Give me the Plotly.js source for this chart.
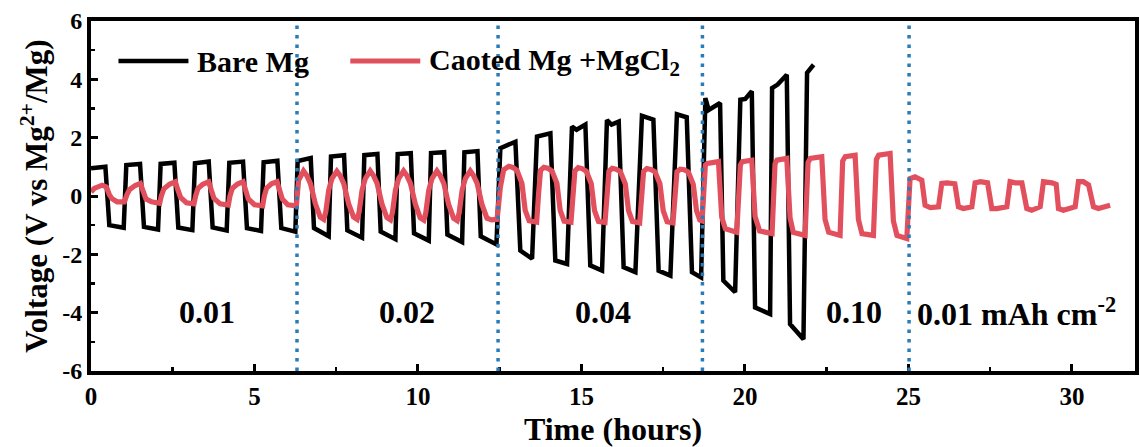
<!DOCTYPE html>
<html>
<head>
<meta charset="utf-8">
<script src="https://cdn.plot.ly/plotly-3.0.1.min.js"></script>
<style>html,body{margin:0;padding:0;background:#fff;}#chart{width:1140px;height:447px;}</style>
</head>
<body>
<div id="chart"></div>
<script>
// ---- data ----
const bareTime = [
  0.00,0.44,0.56,1.00, 1.08,1.50,1.62,2.05, 2.13,2.55,2.67,3.10, 3.18,3.60,3.72,4.15, 4.23,4.65,4.77,5.20, 5.28,5.70,5.82,6.25,
  6.32,6.72,6.82,7.27, 7.34,7.74,7.84,8.29, 8.36,8.76,8.86,9.31, 9.38,9.78,9.88,10.33, 10.40,10.80,10.90,11.35, 11.42,11.82,11.92,12.40,
  12.52,12.98,13.13,13.49, 13.64,14.05,14.20,14.56, 14.71,14.85,15.12,15.27,15.63, 15.78,15.92,16.14,16.29,16.65, 16.85,17.20,17.36,17.72, 17.92,18.22,18.38,18.66,
  18.79,18.89,19.24,19.34,19.70, 19.86,20.01,20.21,20.31,20.77, 20.83,21.00,21.28,21.38,21.79, 21.90,22.10
];
const bareVolt = [
  0.95,1.00,-1.00,-1.09, 1.06,1.10,-1.06,-1.15, 1.10,1.14,-1.08,-1.17, 1.12,1.18,-1.08,-1.18, 1.14,1.18,-1.10,-1.20, 1.16,1.21,-1.10,-1.22,
  1.20,1.30,-1.10,-1.38, 1.35,1.40,-1.18,-1.43, 1.40,1.44,-1.22,-1.48, 1.44,1.47,-1.28,-1.53, 1.47,1.50,-1.32,-1.58, 1.50,1.54,-1.38,-1.66,
  1.64,1.86,-1.87,-2.15, 2.04,2.15,-2.21,-2.33, 2.38,2.27,2.45,-2.38,-2.56, 2.60,2.45,2.55,-2.44,-2.61, 2.75,2.62,-2.56,-2.73, 2.80,2.70,-2.61,-2.79,
  3.36,2.95,3.19,-2.90,-3.30, 3.30,3.33,3.59,-3.82,-4.05, 3.70,3.82,4.16,-4.39,-4.91, 4.22,4.50
];
const coatTime = [
  0.00,0.10,0.34,0.47,0.56,0.64,0.80,1.02, 1.10,1.18,1.35,1.51,1.60,1.68,1.85,2.10, 2.15,2.23,2.40,2.58,2.66,2.74,2.92,3.15,
  3.20,3.27,3.42,3.60,3.68,3.76,3.95,4.20, 4.25,4.32,4.48,4.65,4.73,4.81,5.00,5.25, 5.30,5.37,5.52,5.69,5.77,5.85,6.02,6.28,
  6.35,6.50,6.60,6.71,6.86,7.01,7.12,7.18,7.27,7.37, 7.52,7.62,7.73,7.88,8.03,8.14,8.20,8.29,8.39,
  8.54,8.64,8.75,8.90,9.05,9.16,9.22,9.31,9.41, 9.56,9.66,9.77,9.92,10.07,10.18,10.24,10.33,10.43,
  10.58,10.68,10.79,10.94,11.09,11.20,11.26,11.35,11.45, 11.60,11.70,11.81,11.96,12.11,12.25,12.42,
  12.52,12.62,12.78,12.90,13.03,13.18,13.28,13.40, 13.63,13.69,13.75,13.85,13.97,14.10,14.25,14.35,14.47,
  14.68,14.74,14.80,14.90,15.02,15.15,15.30,15.40,15.52, 15.72,15.78,15.84,15.94,16.06,16.19,16.34,16.44,16.56,
  16.78,16.84,16.90,17.00,17.12,17.25,17.40,17.50,17.62, 17.80,17.86,17.92,18.02,18.14,18.27,18.42,18.52,18.62,18.69,
  18.79,18.85,19.19,19.29,19.40,19.75, 19.86,19.92,20.21,20.31,20.45,20.83, 20.92,20.98,21.28,21.38,21.48,21.84,
  21.93,22.00,22.35,22.45,22.56,22.91, 22.99,23.07,23.37,23.47,23.58,23.93, 24.02,24.09,24.44,24.54,24.65,24.95,
  25.05,25.20,25.41,25.51,25.67,25.92, 26.02,26.18,26.42,26.53,26.68,26.94, 27.04,27.20,27.42,27.55,27.70,28.01,
  28.11,28.27,28.47,28.62,28.77,29.03, 29.13,29.39,29.52,29.59,29.74,30.10, 30.20,30.35,30.51,30.66,30.81,31.17
];
const coatVolt = [
  0.14,0.26,0.37,0.31,0.05,-0.09,-0.20,-0.20, 0.05,0.22,0.36,0.43,0.15,-0.10,-0.20,-0.25, 0.00,0.25,0.40,0.49,0.20,-0.05,-0.23,-0.27,
  0.00,0.26,0.40,0.49,0.20,-0.08,-0.27,-0.31, 0.00,0.26,0.41,0.49,0.20,-0.10,-0.30,-0.34, 0.00,0.27,0.42,0.49,0.20,-0.10,-0.30,-0.34,
  0.54,0.86,0.70,0.43,-0.26,-0.72,-0.80,-0.55,0.20,0.60, 0.85,0.70,0.43,-0.27,-0.72,-0.80,-0.55,0.20,0.60,
  0.86,0.70,0.43,-0.28,-0.74,-0.82,-0.56,0.20,0.60, 0.86,0.70,0.43,-0.28,-0.75,-0.83,-0.57,0.20,0.60,
  0.86,0.70,0.43,-0.30,-0.76,-0.84,-0.58,0.20,0.60, 0.86,0.70,0.43,-0.30,-0.76,-0.82,-0.80,
  0.30,0.90,1.02,0.98,0.88,0.43,-0.49,-0.85, -0.90,0.10,0.88,0.98,0.95,0.86,0.43,-0.49,-0.86,
  -0.90,0.10,0.86,0.97,0.94,0.85,0.42,-0.50,-0.87, -0.91,0.10,0.85,0.95,0.92,0.84,0.42,-0.50,-0.87,
  -0.92,0.10,0.84,0.94,0.91,0.83,0.42,-0.50,-0.88, -0.92,0.10,0.83,0.92,0.90,0.82,0.40,-0.50,-0.82,-0.85,
  1.06,1.12,1.18,-0.72,-1.12,-1.24, 1.06,1.18,1.23,-0.70,-1.20,-1.29, 1.10,1.23,1.29,-0.75,-1.25,-1.35,
  1.15,1.29,1.35,-0.80,-1.24,-1.35, 1.20,1.35,1.40,-0.80,-1.29,-1.35, 1.25,1.40,1.46,-0.85,-1.35,-1.46,
  0.60,0.66,0.54,-0.32,-0.40,-0.37, 0.43,0.45,0.42,-0.37,-0.43,-0.37, 0.45,0.49,0.45,-0.43,-0.43,-0.37,
  0.49,0.45,0.45,-0.43,-0.49,-0.37, 0.49,0.45,0.40,-0.43,-0.49,-0.37, 0.49,0.49,0.38,-0.37,-0.43,-0.32
];
const stepTimes = [6.30, 12.45, 18.70, 25.02];
const rateLabels = ['0.01', '0.02', '0.04', '0.10', '0.01 mAh cm<sup>-2</sup>'];
const rateLabelTime = [3.56, 9.67, 15.67, 23.34, 28.30];
const rateLabelVolt = -3.98;
const xTicks = [0, 5, 10, 15, 20, 25, 30];
const yTicks = [-6, -4, -2, 0, 2, 4, 6];
const seriesNames = ['Bare Mg', 'Caoted Mg +MgCl<sub>2</sub>'];

// ---- styling ----
const FONT = 'Liberation Serif, "Times New Roman", serif';
const BLACK = '#000000';
const RED = '#e2505e';
const BLUE = '#2a7bb6';

const traces = [
  {x: bareTime, y: bareVolt, type: 'scatter', mode: 'lines', name: seriesNames[0],
   line: {color: BLACK, width: 4.5}, showlegend: false, hoverinfo: 'skip'},
  {x: coatTime, y: coatVolt, type: 'scatter', mode: 'lines', name: seriesNames[1],
   line: {color: RED, width: 5.2}, showlegend: false, hoverinfo: 'skip'}
];

const shapes = stepTimes.map(t => ({
  type: 'line', xref: 'x', yref: 'y', x0: t, x1: t, y0: -6, y1: 6,
  line: {color: BLUE, width: 3.5, dash: '3.5px,6px'}, layer: 'above'
}));
// legend samples
shapes.push({type: 'line', xref: 'x', yref: 'y', x0: 0.84, x1: 2.98, y0: 4.63, y1: 4.63,
  line: {color: BLACK, width: 4.5}});
shapes.push({type: 'line', xref: 'x', yref: 'y', x0: 7.93, x1: 10.07, y0: 4.63, y1: 4.63,
  line: {color: RED, width: 5}});

const annotations = rateLabels.map((t, i) => ({
  x: rateLabelTime[i], y: rateLabelVolt, xref: 'x', yref: 'y', text: t, showarrow: false,
  xanchor: 'center', yanchor: 'middle',
  font: {family: FONT, size: 32, color: BLACK, weight: 'bold'}
}));
annotations.push({x: 3.19, y: 4.6, xref: 'x', yref: 'y', text: seriesNames[0], showarrow: false,
  xanchor: 'left', yanchor: 'middle', font: {family: FONT, size: 30, color: BLACK, weight: 'bold'}});
annotations.push({x: 10.28, y: 4.6, xref: 'x', yref: 'y', text: seriesNames[1], showarrow: false,
  xanchor: 'left', yanchor: 'middle', font: {family: FONT, size: 30, color: BLACK, weight: 'bold'}});

const layout = {
  width: 1140, height: 447,
  margin: {l: 91, r: 5, t: 21, b: 76, pad: 0},
  paper_bgcolor: '#ffffff', plot_bgcolor: '#ffffff',
  showlegend: false,
  xaxis: {
    range: [0, 31.93], showgrid: false, zeroline: false,
    showline: true, linecolor: BLACK, linewidth: 4, mirror: true,
    ticks: 'inside', ticklen: 7, tickwidth: 3, tickcolor: BLACK,
    tickvals: xTicks, ticktext: xTicks.map(String),
    minor: {ticks: 'inside', dtick: 2.5, ticklen: 4, tickwidth: 2.5, tickcolor: BLACK},
    tickfont: {family: FONT, size: 25, color: BLACK, weight: 'bold'},
    title: {text: 'Time (hours)', font: {family: FONT, size: 32, color: BLACK, weight: 'bold'}, standoff: 10},
    automargin: false
  },
  yaxis: {
    range: [-6, 6], showgrid: false, zeroline: false,
    showline: true, linecolor: BLACK, linewidth: 4, mirror: true,
    ticks: 'inside', ticklen: 7, tickwidth: 3, tickcolor: BLACK,
    tickvals: yTicks, ticktext: yTicks.map(String),
    minor: {ticks: 'inside', dtick: 1, ticklen: 4, tickwidth: 2.5, tickcolor: BLACK},
    tickfont: {family: FONT, size: 24, color: BLACK, weight: 'bold'},
    title: {text: 'Voltage (V vs Mg<sup>2+</sup>/Mg)', font: {family: FONT, size: 31, color: BLACK, weight: 'bold'}, standoff: 6},
    automargin: false
  },
  shapes: shapes,
  annotations: annotations
};

Plotly.newPlot('chart', traces, layout, {staticPlot: true, displayModeBar: false});
</script>
</body>
</html>
